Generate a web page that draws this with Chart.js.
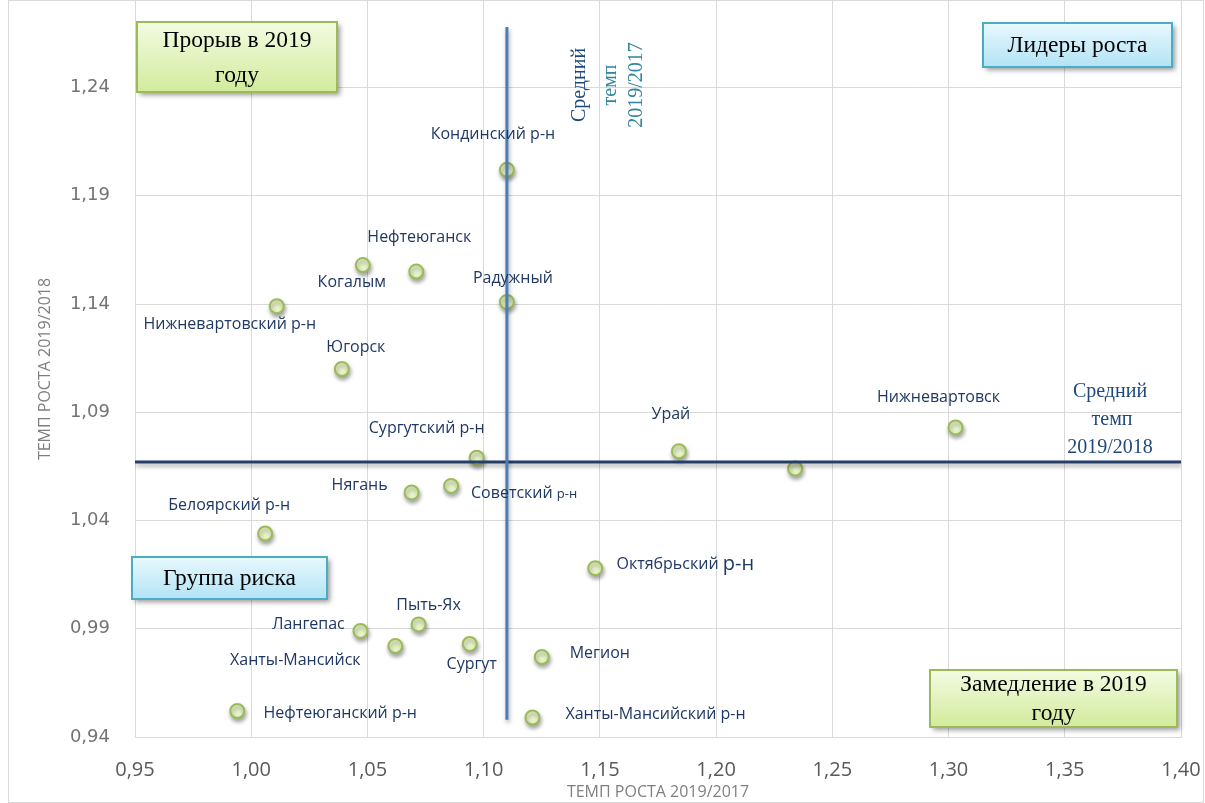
<!DOCTYPE html>
<html>
<head>
<meta charset="utf-8">
<script src="https://cdn.jsdelivr.net/npm/chart.js@4/dist/chart.umd.min.js"></script>
<style>
  html, body { margin: 0; padding: 0; background: #fff; }
  #wrap { width: 1205px; height: 803px; position: relative; }
</style>
</head>
<body>
<div id="wrap"><canvas id="chart" width="1205" height="803"></canvas></div>
<script>
// districts and their growth rates
const names = [
    'Кондинский р-н', 'Нефтеюганск', 'Когалым', 'Радужный', 'Нижневартовский р-н',
    'Югорск', 'Нижневартовск', 'Урай', 'Сургутский р-н', '',
    'Нягань', 'Советский р-н', 'Белоярский р-н', 'Октябрьский р-н', 'Пыть-Ях',
    'Лангепас', 'Ханты-Мансийск', 'Сургут', 'Мегион', 'Нефтеюганский р-н',
    'Ханты-Мансийский р-н'
]
const rate1917 = [
    1.110, 1.071, 1.048, 1.110, 1.011,
    1.039, 1.303, 1.184, 1.097, 1.234,
    1.069, 1.086, 1.006, 1.148, 1.072,
    1.047, 1.062, 1.094, 1.125, 0.994,
    1.121
]
const rate1918 = [
    1.202, 1.155, 1.158, 1.141, 1.139,
    1.110, 1.083, 1.072, 1.069, 1.064,
    1.053, 1.056, 1.034, 1.018, 0.992,
    0.989, 0.982, 0.983, 0.977, 0.952,
    0.949
]
const xTicks = [0.95, 1.00, 1.05, 1.10, 1.15, 1.20, 1.25, 1.30, 1.35, 1.40]
const yTicks = [0.94, 0.99, 1.04, 1.09, 1.14, 1.19, 1.24]

// average growth lines
const meanX = 1.11
const meanY = 1.067
const meanXSpan = [0.948, 1.268]
const meanYSpan = [0.95, 1.40]

// label placement relative to the point (px)
const labelOffsets = [
    [-14, -35], [3, -34], [-11, 17], [6, -23], [-47, 18],
    [14, -22], [-17, -30], [-8, -37], [-50, -29], [0, 0],
    [-52, -7], [73, 8], [-36, -28], [90, -4], [10, -19],
    [-52, -6], [-100, 14], [2, 21], [58, -3], [103, 2],
    [123, -3]
]
// some labels have "р-н" typed in another size
const suffixSize = { 11: 13, 13: 20 }

const fmt = v => v.toFixed(2).replace('.', ',')

const pointShadow = {
    id: 'pointShadow',
    beforeDatasetDraw(chart, args) {
        const ctx = chart.ctx
        ctx.save()
        ctx.shadowColor = 'rgba(0,0,0,0.35)'
        ctx.shadowBlur = 4
        ctx.shadowOffsetX = 1
        ctx.shadowOffsetY = 3
    },
    afterDatasetDraw(chart, args) {
        chart.ctx.restore()
    }
}

const pointLabels = {
    id: 'pointLabels',
    afterDatasetsDraw(chart) {
        const ctx = chart.ctx
        const meta = chart.getDatasetMeta(2)
        ctx.save()
        ctx.fillStyle = '#1f3864'
        ctx.textAlign = 'left'
        ctx.textBaseline = 'middle'
        meta.data.forEach((pt, i) => {
            if (!names[i]) return
            const cx = pt.x + labelOffsets[i][0]
            const cy = pt.y + labelOffsets[i][1]
            let parts = [[names[i], 16]]
            if (suffixSize[i]) {
                const k = names[i].lastIndexOf(' ')
                parts = [[names[i].slice(0, k + 1), 16], [names[i].slice(k + 1), suffixSize[i]]]
            }
            let w = 0
            parts.forEach(p => { ctx.font = p[1] + 'px "Open Sans"'; w += ctx.measureText(p[0]).width })
            let x = cx - w / 2
            parts.forEach(p => {
                ctx.font = p[1] + 'px "Open Sans"'
                ctx.fillText(p[0], x, cy)
                x += ctx.measureText(p[0]).width
            })
        })
        ctx.restore()
    }
}

function drawBox(ctx, x, y, w, h, top, bottom, border, lines) {
    ctx.save()
    ctx.shadowColor = 'rgba(0,0,0,0.4)'
    ctx.shadowBlur = 5
    ctx.shadowOffsetX = 3
    ctx.shadowOffsetY = 3
    const g = ctx.createLinearGradient(0, y, 0, y + h)
    g.addColorStop(0, top)
    g.addColorStop(1, bottom)
    ctx.fillStyle = g
    ctx.fillRect(x, y, w, h)
    ctx.shadowColor = 'transparent'
    ctx.strokeStyle = border
    ctx.lineWidth = 2
    ctx.strokeRect(x, y, w, h)
    ctx.fillStyle = '#000'
    ctx.font = '23.5px "Liberation Serif"'
    ctx.textAlign = 'center'
    ctx.textBaseline = 'middle'
    const step = h / lines.length
    lines.forEach((t, i) => ctx.fillText(t, x + w / 2, y + step * (i + 0.5) + 1))
    ctx.restore()
}

const annotations = {
    id: 'annotations',
    afterDraw(chart) {
        const ctx = chart.ctx
        // quadrant boxes
        drawBox(ctx, 137, 22, 200, 70, '#f3fbe2', '#d2eb9c', '#9bbb59', ['Прорыв в 2019', 'году'])
        drawBox(ctx, 983, 23, 189, 44, '#e8f8fd', '#b3e3f6', '#4bacc6', ['Лидеры роста'])
        drawBox(ctx, 132, 557, 195, 42, '#e8f8fd', '#b3e3f6', '#4bacc6', ['Группа риска'])
        drawBox(ctx, 930, 670, 247, 57, '#f3fbe2', '#d2eb9c', '#9bbb59', ['Замедление в 2019', 'году'])

        // mean captions
        ctx.save()
        ctx.font = '20px "Liberation Serif"'
        ctx.textAlign = 'center'
        ctx.textBaseline = 'middle'
        const xs = chart.scales.x, ys = chart.scales.y
        const vx = xs.getPixelForValue(meanX)
        const vy = 85
        const rot = [['Средний', '#1f497d', 73], ['темп', '#31859c', 104], ['2019/2017', '#31859c', 130]]
        rot.forEach(([t, c, dx]) => {
            ctx.save()
            ctx.translate(vx + dx, vy)
            ctx.rotate(-Math.PI / 2)
            ctx.fillStyle = c
            ctx.fillText(t, 0, 0)
            ctx.restore()
        })
        const hy = ys.getPixelForValue(meanY)
        ctx.fillStyle = '#1f497d'
        ctx.fillText('Средний', 1110, hy - 70)
        ctx.fillText('темп', 1112, hy - 42)
        ctx.fillText('2019/2018', 1110, hy - 14)
        ctx.restore()

        // chart border
        ctx.save()
        ctx.strokeStyle = '#d9d9d9'
        ctx.lineWidth = 1
        ctx.strokeRect(8.5, 0.5, 1195, 802)
        ctx.restore()
    }
}

const chart = new Chart(document.getElementById('chart'), {
    type: 'scatter',
    data: {
        datasets: [{
            type: 'line',
            data: meanXSpan.map(v => ({ x: meanX, y: v })),
            borderColor: '#4a7ebb',
            borderWidth: 3,
            pointRadius: 0,
            order: 0
        }, {
            type: 'line',
            data: meanYSpan.map(v => ({ x: v, y: meanY })),
            borderColor: '#253f6a',
            borderWidth: 3,
            pointRadius: 0,
            order: 0
        }, {
            data: rate1917.map((x, i) => ({ x: x, y: rate1918[i] })),
            backgroundColor: '#e8f4c8',
            borderColor: '#9bbb59',
            borderWidth: 2,
            pointRadius: 7,
            order: 1
        }]
    },
    options: {
        responsive: false,
        animation: false,
        layout: { autoPadding: false, padding: { left: 10, right: 24, top: 1, bottom: 0 } },
        plugins: {
            legend: { display: false },
            tooltip: { enabled: false }
        },
        scales: {
            x: {
                type: 'linear',
                min: 0.95,
                max: 1.40,
                afterBuildTicks: s => { s.ticks = xTicks.map(v => ({ value: v })) },
                afterFit: s => { s.height = 66; s.paddingLeft = 0; s.paddingRight = 0 },
                grid: { color: '#d9d9d9', drawTicks: false },
                border: { color: '#d9d9d9' },
                ticks: {
                    padding: 21,
                    color: '#595959',
                    font: { family: 'Open Sans', size: 20 },
                    callback: v => fmt(v)
                },
                title: {
                    display: true,
                    text: 'ТЕМП РОСТА 2019/2017',
                    color: '#7f7f7f',
                    font: { family: 'Open Sans', size: 16 },
                    padding: { top: 0, bottom: 1 }
                }
            },
            y: {
                type: 'linear',
                min: 0.94,
                max: 1.28,
                afterBuildTicks: s => { s.ticks = yTicks.map(v => ({ value: v })) },
                afterFit: s => { s.width = 125; s.paddingTop = 0; s.paddingBottom = 0 },
                grid: { color: '#d9d9d9', drawTicks: false },
                border: { color: '#d9d9d9' },
                ticks: {
                    padding: 25,
                    color: '#737373',
                    font: { family: 'DejaVu Sans', size: 18 },
                    callback: v => fmt(v)
                },
                title: {
                    display: true,
                    text: 'ТЕМП РОСТА 2019/2018',
                    color: '#7f7f7f',
                    font: { family: 'Open Sans', size: 16 },
                    padding: { top: 26, bottom: 0 }
                }
            }
        }
    },
    plugins: [pointShadow, pointLabels, annotations]
})
</script>
</body>
</html>
